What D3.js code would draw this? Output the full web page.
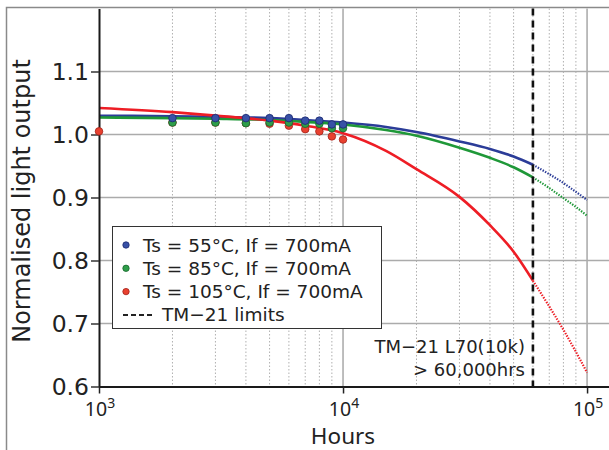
<!DOCTYPE html>
<html>
<head>
<meta charset="utf-8">
<script src="https://cdn.jsdelivr.net/npm/d3@7"></script>
<style>
  body { margin: 0; background: #fff; }
  text { font-family: "DejaVu Sans", Verdana, sans-serif; fill: #222; }
</style>
</head>
<body>
<svg id="chart" width="609" height="450"></svg>
<script>
// measured points
var pointHours = [2000, 3000, 4000, 5000, 6000, 7000, 8000, 9000, 10000]
var ts55 = [1.026, 1.026, 1.026, 1.026, 1.026, 1.022, 1.022, 1.016, 1.016]
var ts85 = [1.019, 1.019, 1.018, 1.019, 1.019, 1.017, 1.017, 1.010, 1.010]
var redHours = [1000, 2000, 3000, 4000, 5000, 6000, 7000, 8000, 9000, 10000]
var ts105 = [1.005, 1.019, 1.019, 1.018, 1.017, 1.014, 1.0085, 1.005, 0.997, 0.992]

// fitted curves (solid) up to the TM-21 limit
var fitHours = [1000, 2000, 3000, 5000, 7000, 10000, 15000, 20000, 30000, 40000, 50000, 60000]
var fit55 = [1.0297, 1.029, 1.028, 1.026, 1.023, 1.019, 1.012, 1.004, 0.989, 0.977, 0.965, 0.952]
var fit85 = [1.027, 1.026, 1.025, 1.023, 1.020, 1.016, 1.007, 0.998, 0.979, 0.963, 0.948, 0.932]
var fit105 = [1.042, 1.0355, 1.030, 1.022, 1.014, 1.002, 0.974, 0.945, 0.901, 0.856, 0.814, 0.768]

// projection beyond the limit (dotted)
var projHours = [60000, 70000, 80000, 90000, 100000]
var proj55 = [0.952, 0.937, 0.923, 0.909, 0.896]
var proj85 = [0.932, 0.915, 0.899, 0.885, 0.871]
var proj105 = [0.768, 0.727, 0.690, 0.655, 0.622]

var yTicks = [0.6, 0.7, 0.8, 0.9, 1.0, 1.1]
var xMajor = [1000, 10000, 100000]
var xExponents = ["3", "4", "5"]
var tm21Limit = 60000

var legendLabels = ["Ts = 55°C, If = 700mA", "Ts = 85°C, If = 700mA", "Ts = 105°C, If = 700mA", "TM\u221221 limits"]

var lineColors = ["#2b3c98", "#1f9838", "#ee1d25"]
var dotFills = ["#3851a6", "#2e9e4a", "#e8412f"]
var dotStrokes = ["#1c2870", "#18672c", "#a3221a"]

var svg = d3.select("#chart")

var x = d3.scaleLog().domain([1000, 123000]).range([99, 609])
var y = d3.scaleLinear().domain([0.6, 1.2]).range([386.5, 8.5])

// figure frame
svg.append("path")
    .attr("d", "M6.5,450 V7.5 H609")
    .attr("fill", "none")
    .attr("stroke", "#8a8a8a")
    .attr("stroke-width", 1.5)

// minor vertical grid
var minors = []
;[1000, 10000].forEach(function(dec) {
    for (var k = 2; k <= 9; k++) minors.push(dec * k)
})
svg.selectAll(".minor")
    .data(minors)
    .enter()
    .append("line")
    .attr("class", "minor")
    .attr("x1", function(d) { return x(d) })
    .attr("x2", function(d) { return x(d) })
    .attr("y1", y(1.2))
    .attr("y2", y(0.6))
    .attr("stroke", "#b0b0b0")
    .attr("stroke-width", 1)
    .attr("stroke-dasharray", "1.5,2")

// major vertical grid
svg.selectAll(".major")
    .data([10000, 100000])
    .enter()
    .append("line")
    .attr("x1", function(d) { return x(d) })
    .attr("x2", function(d) { return x(d) })
    .attr("y1", y(1.2))
    .attr("y2", y(0.6))
    .attr("stroke", "#a8a8a8")
    .attr("stroke-width", 1.5)

// horizontal grid
svg.selectAll(".hgrid")
    .data(yTicks.slice(1))
    .enter()
    .append("line")
    .attr("x1", x(1000))
    .attr("x2", 609)
    .attr("y1", function(d) { return y(d) })
    .attr("y2", function(d) { return y(d) })
    .attr("stroke", "#ababab")
    .attr("stroke-width", 1.5)

// fitted curves
var line = d3.line()
    .x(function(d) { return x(d[0]) })
    .y(function(d) { return y(d[1]) })
    .curve(d3.curveMonotoneX)

var fits = [fit55, fit85, fit105]
var projs = [proj55, proj85, proj105]

fits.forEach(function(vals, i) {
    svg.append("path")
        .datum(d3.zip(fitHours, vals))
        .attr("d", line)
        .attr("fill", "none")
        .attr("stroke", lineColors[i])
        .attr("stroke-width", 2.6)
})

projs.forEach(function(vals, i) {
    svg.append("path")
        .datum(d3.zip(projHours, vals))
        .attr("d", line)
        .attr("fill", "none")
        .attr("stroke", lineColors[i])
        .attr("stroke-width", 2.2)
        .attr("stroke-dasharray", "1.4,1.4")
})

// TM-21 limit line
svg.append("line")
    .attr("x1", x(tm21Limit))
    .attr("x2", x(tm21Limit))
    .attr("y1", y(1.2))
    .attr("y2", y(0.6))
    .attr("stroke", "#111")
    .attr("stroke-width", 2.6)
    .attr("stroke-dasharray", "7,5")

// axes
var yAxis = d3.axisLeft(y)
    .tickValues(yTicks)
    .tickFormat(d3.format(".1f"))
    .tickSize(8)
    .tickSizeOuter(0)

var gy = svg.append("g")
    .attr("transform", "translate(" + x(1000) + ",0)")
    .call(yAxis)
gy.select(".domain").attr("stroke", "#1a1a1a").attr("stroke-width", 2)
gy.selectAll(".tick line").attr("stroke", "#333").attr("stroke-width", 1.5)
gy.selectAll(".tick text")
    .attr("x", -10)
    .style("font-size", "23.5px")
    .style("font-family", "DejaVu Sans, Verdana, sans-serif")
    .attr("fill", "#222")

var xAxis = d3.axisBottom(x)
    .tickValues(xMajor)
    .tickFormat("")
    .tickSize(7)
    .tickSizeOuter(0)

var gx = svg.append("g")
    .attr("transform", "translate(0," + y(0.6) + ")")
    .call(xAxis)
gx.select(".domain").attr("stroke", "#1a1a1a").attr("stroke-width", 2)
gx.selectAll(".tick line").attr("stroke", "#222").attr("stroke-width", 1.5)

var xl = svg.selectAll(".xlab")
    .data(xMajor)
    .enter()
    .append("text")
    .attr("class", "xlab")
    .attr("x", function(d) { return x(d) + 1 })
    .attr("y", 416)
    .attr("text-anchor", "middle")
    .style("font-family", "Noto Sans, Open Sans, sans-serif")
xl.append("tspan")
    .style("font-size", "19.5px")
    .text("10")
xl.append("tspan")
    .attr("dy", -8)
    .style("font-size", "14px")
    .text(function(d, i) { return xExponents[i] })

// axis titles
svg.append("text")
    .attr("x", 343)
    .attr("y", 444)
    .attr("text-anchor", "middle")
    .style("font-family", "Noto Sans, Open Sans, sans-serif")
    .style("font-size", "22.5px")
    .text("Hours")

svg.append("text")
    .attr("transform", "translate(30,201) rotate(-90)")
    .attr("text-anchor", "middle")
    .style("font-size", "24px")
    .text("Normalised light output")

// measured dots (red first so the others sit on top)
var dotSets = [
    [redHours, ts105, 2],
    [pointHours, ts85, 1],
    [pointHours, ts55, 0]
]
dotSets.forEach(function(set) {
    svg.selectAll(null)
        .data(d3.zip(set[0], set[1]))
        .enter()
        .append("circle")
        .attr("cx", function(d) { return x(d[0]) })
        .attr("cy", function(d) { return y(d[1]) })
        .attr("r", 3.8)
        .attr("fill", dotFills[set[2]])
        .attr("stroke", dotStrokes[set[2]])
        .attr("stroke-width", 0.8)
})

// annotation
var note = svg.append("text")
    .attr("text-anchor", "end")
    .style("font-size", "18px")
note.append("tspan").attr("x", 525).attr("y", 353).text("TM\u221221 L70(10k)")
note.append("tspan").attr("x", 525).attr("y", 376).text("> 60,000hrs")

// legend
var legend = svg.append("g")
legend.append("rect")
    .attr("x", 112.5)
    .attr("y", 226.5)
    .attr("width", 269)
    .attr("height", 102)
    .attr("fill", "#fff")
    .attr("stroke", "#333")
    .attr("stroke-width", 1)

legendLabels.forEach(function(lab, i) {
    var cy = 245 + i * 23.3
    if (i < 3) {
        legend.append("circle")
            .attr("cx", 126)
            .attr("cy", cy)
            .attr("r", 3.2)
            .attr("fill", dotFills[i])
            .attr("stroke", dotStrokes[i])
            .attr("stroke-width", 0.8)
        legend.append("text")
            .attr("x", 143)
            .attr("y", cy + 6.5)
            .style("font-size", "18.5px")
            .text(lab)
    } else {
        legend.append("line")
            .attr("x1", 123)
            .attr("x2", 154)
            .attr("y1", cy)
            .attr("y2", cy)
            .attr("stroke", "#222")
            .attr("stroke-width", 2)
            .attr("stroke-dasharray", "5,3")
        legend.append("text")
            .attr("x", 162)
            .attr("y", cy + 6.5)
            .style("font-size", "18.5px")
            .text(lab)
    }
})
</script>
</body>
</html>
